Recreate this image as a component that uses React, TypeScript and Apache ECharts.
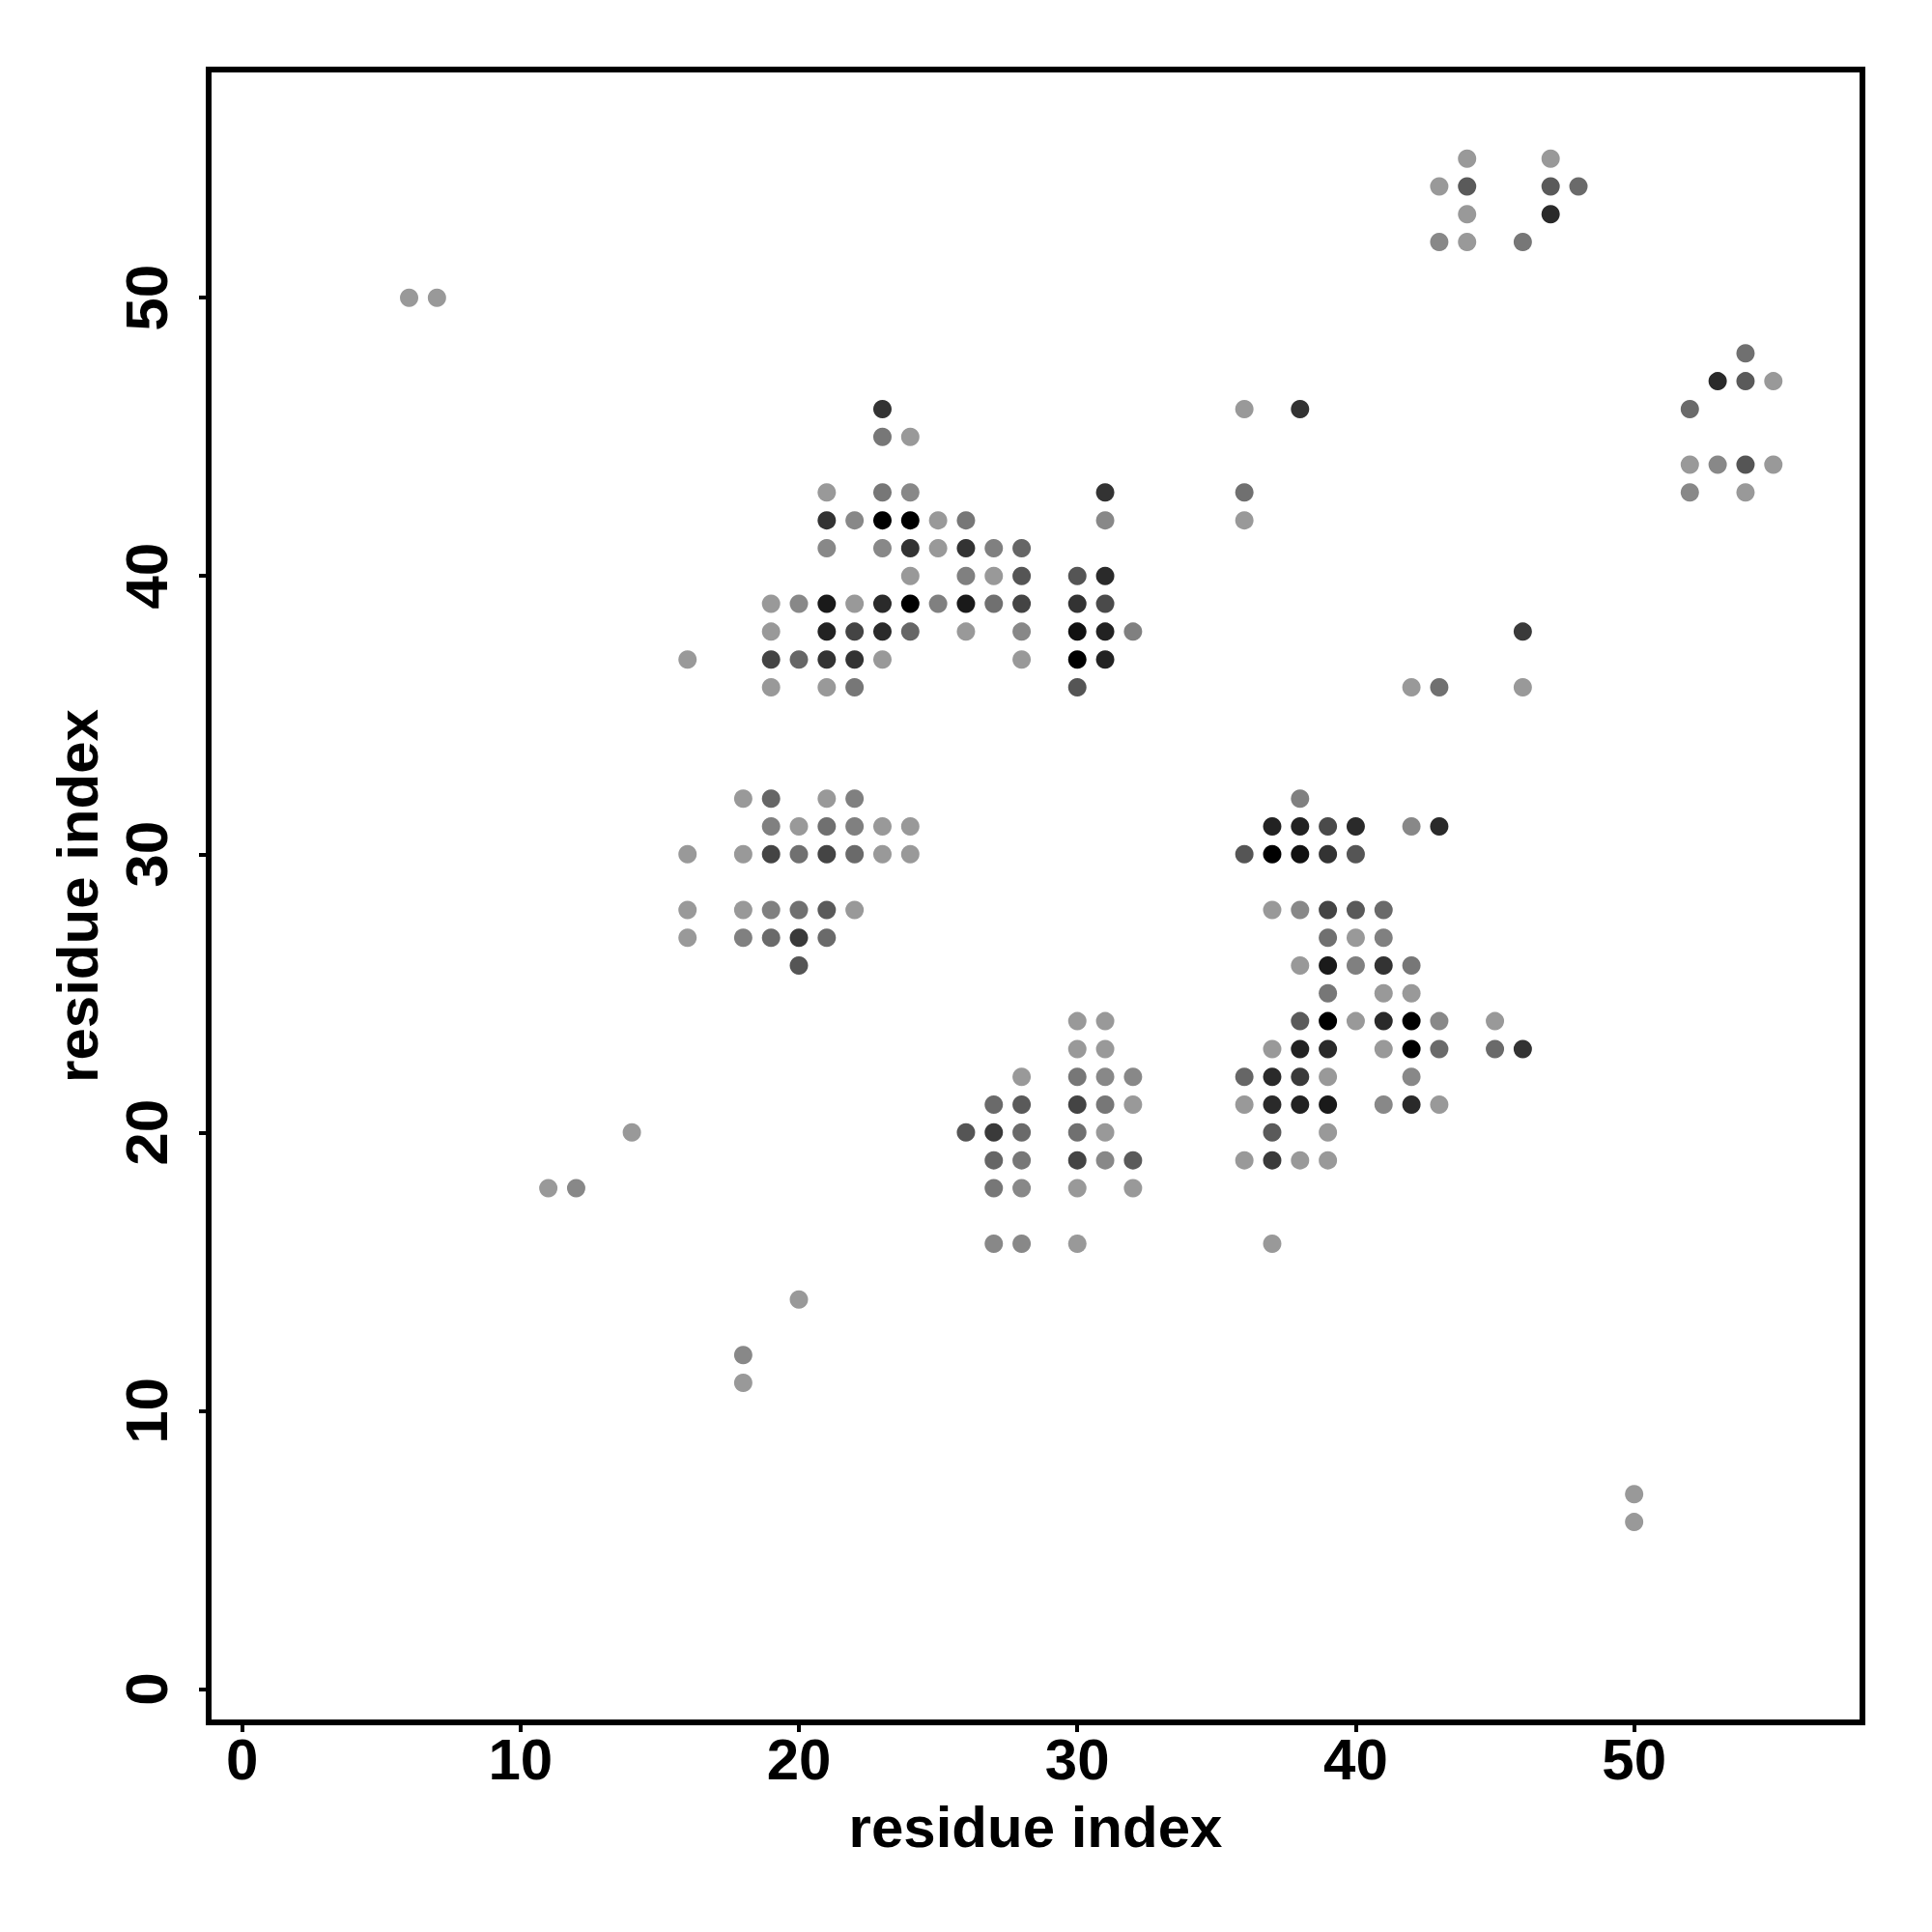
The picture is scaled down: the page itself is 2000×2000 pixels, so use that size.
import React, { useEffect, useRef } from "react";
import * as echarts from "echarts";

// Each contact: [residue i, residue j, grey level 0..255]
const isolatedContacts: [number, number, number][] = [
  [6, 50, 153], [7, 50, 153], [16, 37, 153],
  [14, 20, 153], [11, 18, 153], [12, 18, 136], [20, 14, 153], [18, 12, 136], [18, 11, 153],
  [50, 7, 153], [50, 6, 153],
];

const upperLeftCluster: [number, number, number][] = [
  [23, 46, 51],
  [23, 45, 119], [24, 45, 153],
  [21, 43, 153], [23, 43, 119], [24, 43, 136], [31, 43, 51],
  [21, 42, 51], [22, 42, 136], [23, 42, 0], [24, 42, 0], [25, 42, 153], [26, 42, 119], [31, 42, 136],
  [21, 41, 136], [23, 41, 136], [24, 41, 51], [25, 41, 153], [26, 41, 51], [27, 41, 128], [28, 41, 102],
  [24, 40, 153], [26, 40, 128], [27, 40, 153], [28, 40, 85], [30, 40, 85], [31, 40, 42],
  [19, 39, 153], [20, 39, 136], [21, 39, 26], [22, 39, 153], [23, 39, 42], [24, 39, 0], [25, 39, 128],
  [26, 39, 26], [27, 39, 112], [28, 39, 68], [30, 39, 51], [31, 39, 74],
  [19, 38, 153], [21, 38, 34], [22, 38, 68], [23, 38, 42], [24, 38, 102], [26, 38, 153], [28, 38, 136],
  [30, 38, 17], [31, 38, 34], [32, 38, 128],
  [19, 37, 68], [20, 37, 102], [21, 37, 51], [22, 37, 51], [23, 37, 153], [28, 37, 153], [30, 37, 0], [31, 37, 34],
  [19, 36, 153], [21, 36, 153], [22, 36, 119], [30, 36, 85],
];

const middleLeftCluster: [number, number, number][] = [
  [18, 32, 153], [19, 32, 102], [21, 32, 153], [22, 32, 128],
  [19, 31, 128], [20, 31, 153], [21, 31, 112], [22, 31, 128], [23, 31, 153], [24, 31, 153],
  [16, 30, 153], [18, 30, 153], [19, 30, 68], [20, 30, 112], [21, 30, 68], [22, 30, 106], [23, 30, 153], [24, 30, 153],
  [16, 28, 153], [18, 28, 153], [19, 28, 128], [20, 28, 112], [21, 28, 90], [22, 28, 153],
  [16, 27, 153], [18, 27, 128], [19, 27, 106], [20, 27, 58], [21, 27, 106],
  [20, 26, 85],
];

const lowerMiddleCluster: [number, number, number][] = [
  [30, 24, 153], [31, 24, 153],
  [30, 23, 153], [31, 23, 153],
  [28, 22, 153], [30, 22, 119], [31, 22, 136], [32, 22, 136],
  [27, 21, 106], [28, 21, 90], [30, 21, 68], [31, 21, 119], [32, 21, 153],
  [26, 20, 85], [27, 20, 58], [28, 20, 106], [30, 20, 112], [31, 20, 153],
  [27, 19, 102], [28, 19, 119], [30, 19, 68], [31, 19, 136], [32, 19, 90],
  [27, 18, 119], [28, 18, 136], [30, 18, 153], [32, 18, 153],
  [27, 16, 136], [28, 16, 136], [30, 16, 153],
];

const rightMiddleCluster: [number, number, number][] = [
  [38, 32, 128],
  [37, 31, 34], [38, 31, 34], [39, 31, 74], [40, 31, 42], [42, 31, 136], [43, 31, 42],
  [36, 30, 85], [37, 30, 0], [38, 30, 17], [39, 30, 51], [40, 30, 85],
  [37, 28, 153], [38, 28, 136], [39, 28, 68], [40, 28, 90], [41, 28, 106],
  [39, 27, 112], [40, 27, 153], [41, 27, 128],
  [38, 26, 153], [39, 26, 26], [40, 26, 128], [41, 26, 51], [42, 26, 119],
  [39, 25, 119], [41, 25, 153], [42, 25, 153],
  [38, 24, 90], [39, 24, 0], [40, 24, 153], [41, 24, 42], [42, 24, 0], [43, 24, 136], [45, 24, 153],
  [37, 23, 153], [38, 23, 34], [39, 23, 42], [41, 23, 153], [42, 23, 0], [43, 23, 106], [45, 23, 106], [46, 23, 51],
  [36, 22, 102], [37, 22, 42], [38, 22, 58], [39, 22, 153], [42, 22, 136],
  [36, 21, 153], [37, 21, 42], [38, 21, 34], [39, 21, 26], [41, 21, 136], [42, 21, 42], [43, 21, 153],
  [37, 20, 90], [39, 20, 153],
  [36, 19, 153], [37, 19, 58], [38, 19, 153], [39, 19, 153],
  [37, 16, 153],
];

const upperRightContacts: [number, number, number][] = [
  [36, 46, 153], [38, 46, 51], [36, 43, 112], [36, 42, 153],
  [46, 38, 58], [42, 36, 153], [43, 36, 112], [46, 36, 153],
];

const topRightCluster: [number, number, number][] = [
  [44, 55, 153], [47, 55, 153],
  [43, 54, 153], [44, 54, 90], [47, 54, 90], [48, 54, 106],
  [44, 53, 153], [47, 53, 42],
  [43, 52, 136], [44, 52, 153], [46, 52, 119],
];

const farRightCluster: [number, number, number][] = [
  [54, 48, 112],
  [53, 47, 42], [54, 47, 90], [55, 47, 153],
  [52, 46, 106],
  [52, 44, 153], [53, 44, 136], [54, 44, 85], [55, 44, 153],
  [52, 43, 136], [54, 43, 153],
];

const tickValues = [0, 10, 20, 30, 40, 50];
const axisTitle = "residue index";
const axisMin = -1.2;
const axisMax = 58.2;

const FONT = "'Liberation Sans', Arial, Helvetica, sans-serif";

export default function App() {
  const ref = useRef<HTMLDivElement>(null);

  useEffect(() => {
    if (!ref.current) return;
    const chart = echarts.init(ref.current, null, { renderer: "svg" });
    const all = [
      ...isolatedContacts,
      ...upperLeftCluster,
      ...middleLeftCluster,
      ...lowerMiddleCluster,
      ...rightMiddleCluster,
      ...upperRightContacts,
      ...topRightCluster,
      ...farRightCluster,
    ];
    const tickStyle = { show: true, length: 10, lineStyle: { color: "#000", width: 4 } };
    chart.setOption({
      animation: false,
      backgroundColor: "#ffffff",
      grid: {
        left: 216,
        right: 72,
        top: 72,
        bottom: 217,
        show: true,
        borderColor: "#000",
        borderWidth: 6,
        backgroundColor: "transparent",
      },
      xAxis: {
        type: "value",
        min: axisMin,
        max: axisMax,
        splitLine: { show: false },
        axisLine: { show: false, onZero: false },
        axisTick: { ...tickStyle, customValues: tickValues },
        axisLabel: {
          customValues: tickValues,
          fontSize: 60,
          fontWeight: "bold",
          fontFamily: FONT,
          color: "#000",
          margin: 8,
        },
        name: axisTitle,
        nameLocation: "middle",
        nameGap: 78,
        nameTextStyle: { fontSize: 60, fontWeight: "bold", fontFamily: FONT, color: "#000" },
      },
      yAxis: {
        type: "value",
        min: axisMin,
        max: axisMax,
        splitLine: { show: false },
        axisLine: { show: false, onZero: false },
        axisTick: { ...tickStyle, customValues: tickValues },
        axisLabel: {
          customValues: tickValues,
          rotate: 90,
          fontSize: 62,
          fontWeight: "bold",
          fontFamily: FONT,
          color: "#000",
          margin: 34,
        },
        name: axisTitle,
        nameLocation: "middle",
        nameRotate: 90,
        nameGap: 106,
        nameTextStyle: { fontSize: 60, fontWeight: "bold", fontFamily: FONT, color: "#000" },
      },
      series: [
        {
          type: "scatter",
          symbol: "circle",
          symbolSize: 19,
          itemStyle: { opacity: 1 },
          data: all.map(([x, y, g]) => ({
            value: [x, y],
            itemStyle: { color: `rgb(${g},${g},${g})`, opacity: 1 },
          })),
        },
      ],
    });
    return () => chart.dispose();
  }, []);

  return (
    <div
      ref={ref}
      style={{ position: "fixed", left: 0, top: 0, width: 2000, height: 2000, background: "#fff" }}
    />
  );
}
